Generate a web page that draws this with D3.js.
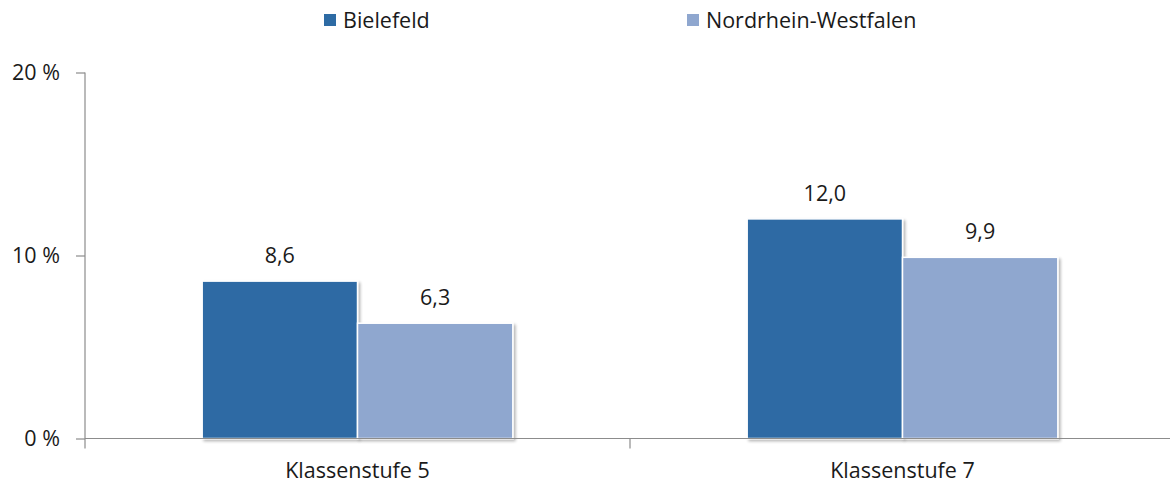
<!DOCTYPE html>
<html><head><meta charset="utf-8">
<script src="https://cdn.jsdelivr.net/npm/d3@7"></script>
<style>html,body{margin:0;padding:0;background:#fff;}svg{display:block;font-family:"Open Sans",sans-serif;}</style>
</head><body>
<svg id="c" width="1170" height="486"></svg>
<script>
const categories = ["Klassenstufe 5", "Klassenstufe 7"];
const seriesNames = ["Bielefeld", "Nordrhein-Westfalen"];
const bielefeld = [8.6, 12.0];
const nrw = [6.3, 9.9];
const yTicks = [0, 10, 20];
const colors = ["#2E6BA4", "#8FA7CF"];
const FS = 21.5;
const FONT = '"Open Sans",sans-serif';

const svg = d3.select("#c");
const x0 = d3.scaleBand().domain(categories).range([85, 1175]).paddingInner(0.43).paddingOuter(0.215);
const x1 = d3.scaleBand().domain(seriesNames).range([0, x0.bandwidth()]);
const y = d3.scaleLinear().domain([0, 20]).range([438.5, 72.5]);
const fmt = v => v.toFixed(1).replace(".", ",");

const data = categories.map((c, i) => ({cat: c, vals: [bielefeld[i], nrw[i]]}));

const defs = svg.append("defs");
const f = defs.append("filter").attr("id","sh").attr("x","-10%").attr("y","-10%").attr("width","130%").attr("height","130%");
f.append("feGaussianBlur").attr("in","SourceAlpha").attr("stdDeviation",1.5).attr("result","b");
f.append("feOffset").attr("in","b").attr("dx",2).attr("dy",2).attr("result","o");
f.append("feComponentTransfer").attr("in","o").attr("result","o2").append("feFuncA").attr("type","linear").attr("slope",0.3);
const m = f.append("feMerge"); m.append("feMergeNode").attr("in","o2"); m.append("feMergeNode").attr("in","SourceGraphic");

const g = svg.append("g");
data.forEach(d => {
  d.vals.forEach((v, j) => {
    const bx = x0(d.cat) + x1(seriesNames[j]);
    g.append("rect")
      .attr("x", bx).attr("y", y(v))
      .attr("width", x1.bandwidth()).attr("height", y(0) - y(v))
      .attr("fill", colors[j]).attr("stroke", "#fff").attr("stroke-width", 1.5)
      .attr("filter", "url(#sh)");
    g.append("text")
      .attr("x", bx + x1.bandwidth() / 2).attr("y", y(v) - 18)
      .attr("text-anchor", "middle").attr("font-size", FS).attr("fill", "#1a1a1a")
      .text(fmt(v));
  });
});

const yAxis = d3.axisLeft(y).tickValues(yTicks).tickSize(9).tickPadding(16).tickFormat(d => d + " %");
const ya = svg.append("g").attr("transform", "translate(85,0)").call(yAxis);
ya.select(".domain").attr("d", `M0,${y(20)}V${y(0) + 10}`);
ya.selectAll("line, path").attr("stroke", "#8c8c8c").attr("stroke-width", 1.2);
ya.selectAll("text").attr("font-size", FS).attr("fill", "#1a1a1a").attr("font-family", FONT);

const xa = svg.append("g").attr("transform", `translate(0,${y(0)})`);
xa.append("line").attr("x1", 85).attr("x2", 1175).attr("y1", 0).attr("y2", 0).attr("stroke", "#8c8c8c").attr("stroke-width", 1.2);
const bounds = [85 + x0.step(), 85 + 2 * x0.step()];
bounds.forEach(b => xa.append("line").attr("x1", b).attr("x2", b).attr("y1", 0).attr("y2", 10).attr("stroke", "#8c8c8c").attr("stroke-width", 1.2));
categories.forEach(c => xa.append("text").attr("x", x0(c) + x0.bandwidth() / 2).attr("y", 39.5)
  .attr("text-anchor", "middle").attr("font-size", FS).attr("fill", "#1a1a1a").text(c));

const legX = [324, 687];
seriesNames.forEach((s, i) => {
  svg.append("rect").attr("x", legX[i]).attr("y", 14).attr("width", 12).attr("height", 12).attr("fill", colors[i]);
  svg.append("text").attr("x", legX[i] + 19).attr("y", 28).attr("font-size", FS).attr("fill", "#1a1a1a").text(s);
});
</script>
</body></html>
